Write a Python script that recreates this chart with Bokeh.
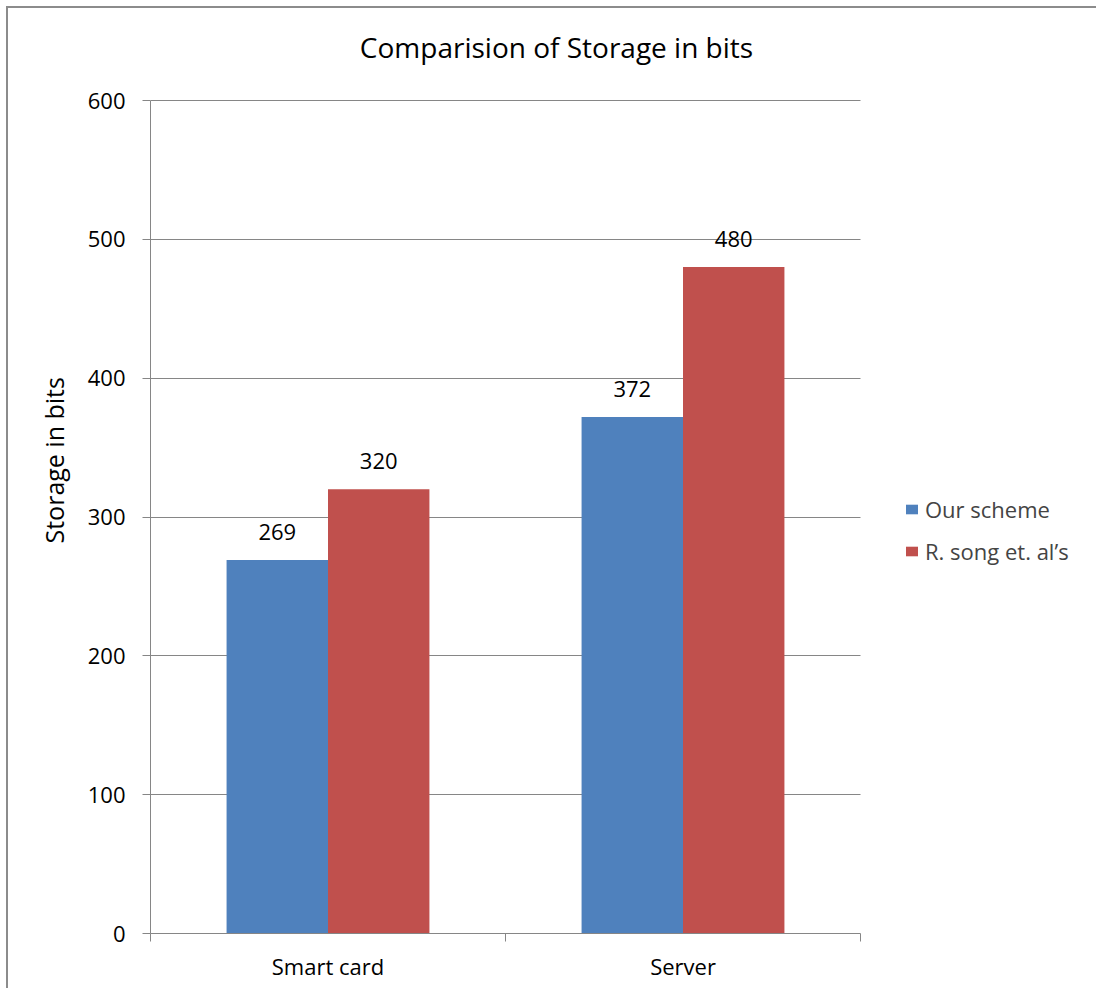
from bokeh.plotting import figure
from bokeh.models import Range1d, FixedTicker, Legend, LegendItem, ColumnDataSource, LabelSet, Title, Label
from bokeh.core.properties import value
from bokeh.embed import file_html
from bokeh.resources import INLINE

categories = ["Smart card", "Server"]
series_names = ["Our scheme", "R. song et. al\u2019s"]
our_scheme = [269, 372]
song_et_al = [320, 480]
y_ticks = [0, 100, 200, 300, 400, 500, 600]
chart_title = "Comparision of Storage in bits"
y_title = "Storage in bits"

BLUE = "#4F81BD"
RED = "#C0504D"
GRAY = "#868686"
FONT = "Open Sans"
FS = "22px"

# layout (pixels)
W, H = 1090, 982
LEFT, BOTTOM, RIGHT = 142, 57, 3
PLOT_W, PLOT_H = 710, 833          # size of the drawn plot area
frame_w = W - LEFT - RIGHT         # frame reaches right/top edges (legend and title live in it)
frame_h = H - BOTTOM
n_cat = len(categories)
y_max = y_ticks[-1]
x_end = n_cat * frame_w / PLOT_W
y_end = y_max * frame_h / PLOT_H

bar_w = 1 / 3.5
cat_x = [i + 0.5 for i in range(n_cat)]
blue_x = [c - bar_w / 2 for c in cat_x]
red_x = [c + bar_w / 2 for c in cat_x]

src_b = ColumnDataSource(dict(x=blue_x, top=our_scheme, lbl=[str(v) for v in our_scheme]))
src_r = ColumnDataSource(dict(x=red_x, top=song_et_al, lbl=[str(v) for v in song_et_al]))

p = figure(width=W, height=H, output_backend="svg", toolbar_location=None,
           x_range=Range1d(0, x_end), y_range=Range1d(0, y_end),
           min_border_left=LEFT, min_border_right=RIGHT, min_border_top=0, min_border_bottom=BOTTOM)
p.styles = {"margin-left": "6px", "margin-top": "6px",
            "border-left": "2px solid #8c8c8c", "border-top": "2px solid #8c8c8c"}

p.add_layout(Label(x=406, y=frame_h - 38, x_units="screen", y_units="screen", text=chart_title,
                   text_align="center", text_baseline="middle", text_font=FONT,
                   text_font_size="28px", text_color="black"))

ylab = Title(text=y_title, align="left", offset=390,
             text_font=FONT, text_font_size="25px", text_font_style="normal",
             text_color="black", standoff=27)
p.add_layout(ylab, "left")

p.outline_line_color = None
p.background_fill_color = "white"

rb = p.vbar(x="x", top="top", width=bar_w, source=src_b, fill_color=BLUE, line_color=None)
rr = p.vbar(x="x", top="top", width=bar_w, source=src_r, fill_color=RED, line_color=None)

for src in (src_b, src_r):
    p.add_layout(LabelSet(x="x", y="top", text="lbl", source=src, text_align="center",
                          text_baseline="alphabetic", y_offset=20, text_font=value(FONT),
                          text_font_size=value(FS), text_color=value("black")))

# x axis
p.xaxis.bounds = (0, n_cat)
p.xaxis.ticker = FixedTicker(ticks=cat_x, minor_ticks=list(range(n_cat + 1)))
p.xaxis.major_label_overrides = {c: n for c, n in zip(cat_x, categories)}
p.xaxis.major_tick_out = 0
p.xaxis.major_tick_in = 0
p.xaxis.minor_tick_out = 8
p.xaxis.minor_tick_in = 0
p.xaxis.minor_tick_line_color = GRAY
p.xaxis.axis_line_color = GRAY
p.xaxis.major_label_text_font = FONT
p.xaxis.major_label_text_font_size = FS
p.xaxis.major_label_text_color = "black"
p.xaxis.major_label_standoff = 9
p.xgrid.grid_line_color = None

# y axis
p.yaxis.bounds = (0, y_max)
p.yaxis.ticker = FixedTicker(ticks=y_ticks)
p.yaxis.minor_tick_line_color = None
p.yaxis.major_tick_out = 8
p.yaxis.major_tick_in = 0
p.yaxis.major_tick_line_color = GRAY
p.yaxis.axis_line_color = GRAY
p.yaxis.major_label_text_font = FONT
p.yaxis.major_label_text_font_size = FS
p.yaxis.major_label_text_color = "black"
p.yaxis.major_label_standoff = 17
p.ygrid.grid_line_color = GRAY
p.ygrid.grid_line_width = 1
p.ygrid.cross_bounds = (0, n_cat)

legend = Legend(items=[LegendItem(label=series_names[0], renderers=[rb]),
                       LegendItem(label=series_names[1], renderers=[rr])],
                location=(754, 367), orientation="vertical")
legend.border_line_color = None
legend.background_fill_alpha = 0
legend.padding = 0
legend.margin = 0
legend.glyph_width = 15
legend.glyph_height = 12
legend.label_text_font = FONT
legend.label_text_font_size = FS
legend.label_standoff = 6
legend.spacing = 12
p.add_layout(legend, "center")

open("out.html", "w").write(file_html(p, INLINE))
